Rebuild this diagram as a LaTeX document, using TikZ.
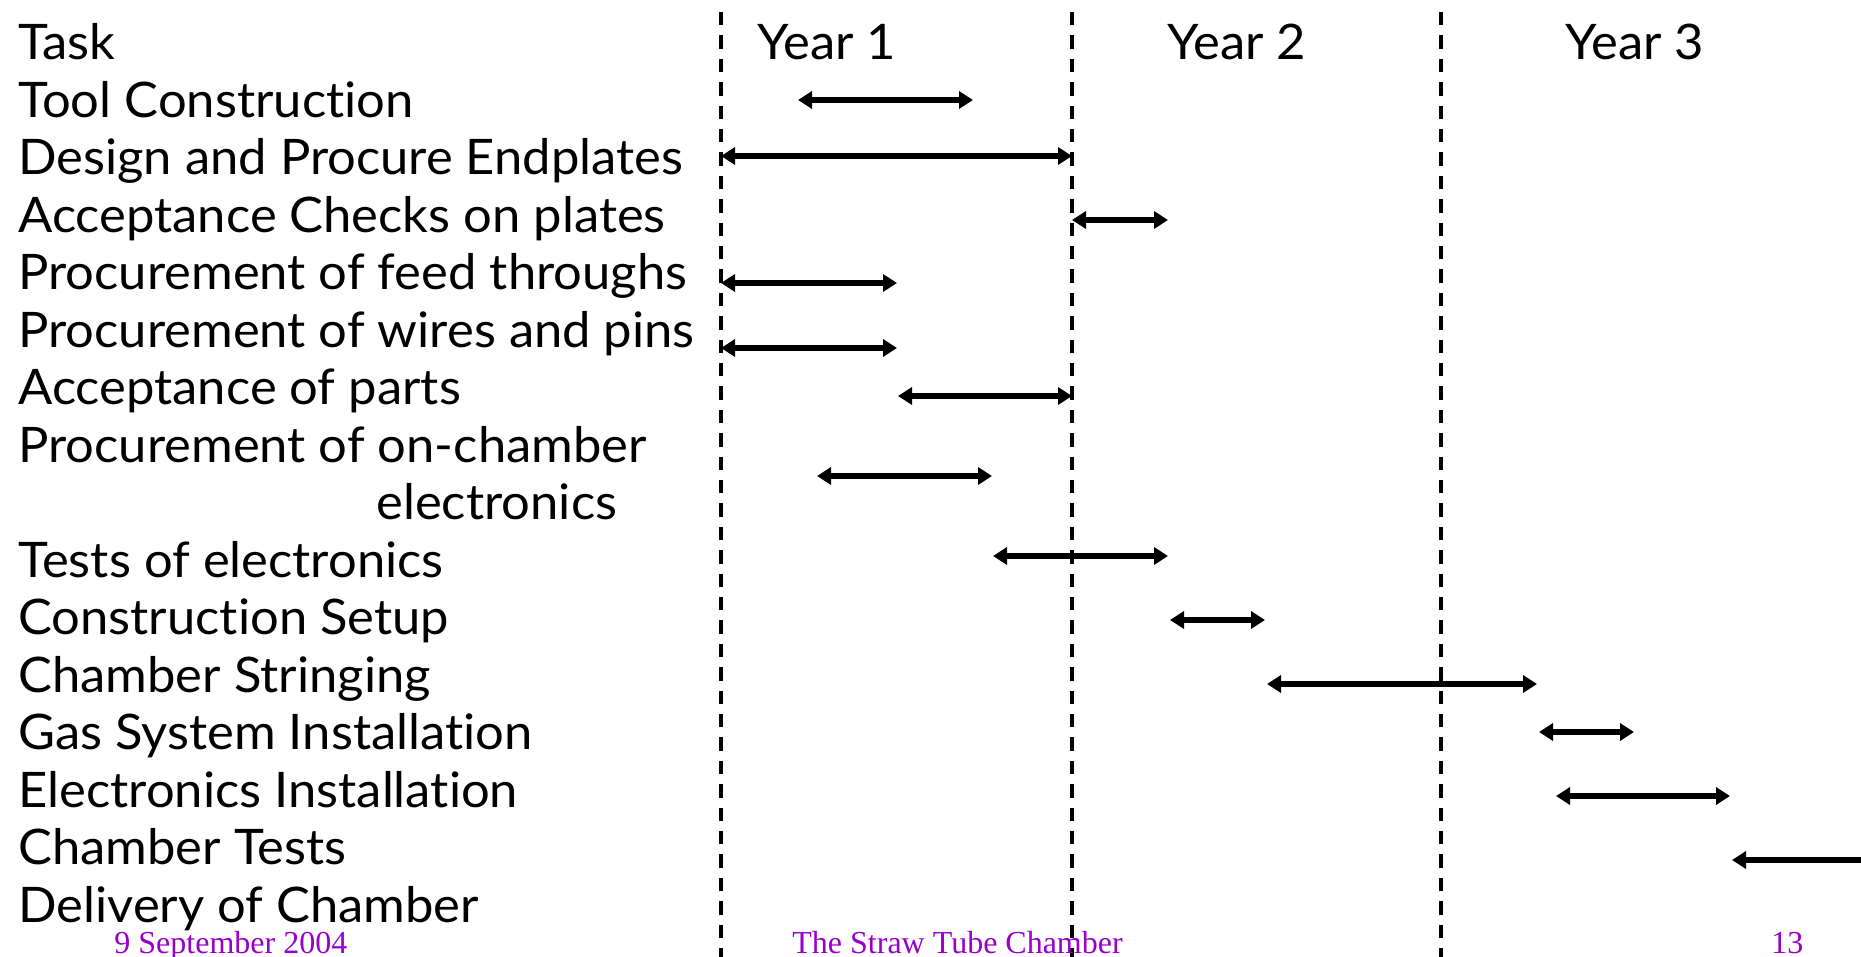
\documentclass[tikz,border=0pt]{standalone}
\usepackage{fontspec}
\setmainfont[FakeStretch=1.035,Ligatures=NoCommon]{Lato}
\newfontfamily\footfont{Liberation Serif}
\usetikzlibrary{arrows.meta}
\definecolor{footpurple}{RGB}{153,0,204}
\begin{document}
\begin{tikzpicture}[x=0.5pt,y=-0.5pt,
  lbl/.style={anchor=base west,inner sep=0pt,font=\fontsize{24.5}{29}\selectfont},
  yr/.style={anchor=base west,inner sep=0pt,font=\fontsize{24.5}{29}\selectfont},
  foot/.style={anchor=base west,inner sep=0pt,text=footpurple,font=\footfont\fontsize{16}{19}\selectfont},
  divider/.style={line width=1.7pt,dash pattern=on 6.7pt off 5pt},
  bar/.style={line width=2.7pt,{Triangle[length=7pt,width=8.5pt]}-{Triangle[length=7pt,width=8.5pt]}},
  lbar/.style={line width=2.7pt,{Triangle[length=7pt,width=8.5pt]}-}]
\useasboundingbox (0,0) rectangle (1861,957);
% dividers
\coordinate (d1t) at (721,12); \coordinate (d1b) at (721,957);
\coordinate (d2t) at (1072,12); \coordinate (d2b) at (1072,957);
\coordinate (d3t) at (1441,12); \coordinate (d3b) at (1441,957);
\draw[divider] (d1t) -- (d1b);
\draw[divider] (d2t) -- (d2b);
\draw[divider] (d3t) -- (d3b);
% labels
\node[lbl] (t0) at (18,60) {Task};
\node[lbl] (t1) at (18,117.5) {Tool Construction};
\node[lbl] (t2) at (18,175) {Design and Procure Endplates};
\node[lbl] (t3) at (18,232.4) {Acceptance Checks on plates};
\node[lbl] (t4) at (18,289.9) {Procurement of feed throughs};
\node[lbl] (t5) at (18,347.4) {Procurement of wires and pins};
\node[lbl] (t6) at (18,404.8) {Acceptance of parts};
\node[lbl] (t7) at (18,462.3) {Procurement of on-chamber};
\node[lbl] (t7b) at (376,519.8) {electronics};
\node[lbl] (t8) at (18,577.2) {Tests of electronics};
\node[lbl] (t9) at (18,634.7) {Construction Setup};
\node[lbl] (t10) at (18,692.2) {Chamber Stringing};
\node[lbl] (t11) at (18,749.6) {Gas System Installation};
\node[lbl] (t12) at (18,807.1) {Electronics Installation};
\node[lbl] (t13) at (18,864.6) {Chamber Tests};
\node[lbl] (t14) at (18,922) {Delivery of Chamber};
% years
\node[yr] (y1) at (757,60) {Year 1};
\node[yr] (y2) at (1167,60) {Year 2};
\node[yr] (y3) at (1565,60) {Year 3};
% bars
\coordinate (a1) at (798,100);  \coordinate (b1) at (973,100);
\coordinate (a2) at (721,156);  \coordinate (b2) at (1072,156);
\coordinate (a3) at (1072,220); \coordinate (b3) at (1168,220);
\coordinate (a4) at (721,283);  \coordinate (b4) at (897,283);
\coordinate (a5) at (721,348);  \coordinate (b5) at (897,348);
\coordinate (a6) at (898,396);  \coordinate (b6) at (1072,396);
\coordinate (a7) at (817,476);  \coordinate (b7) at (992,476);
\coordinate (a8) at (993,556);  \coordinate (b8) at (1168,556);
\coordinate (a9) at (1170,620); \coordinate (b9) at (1265,620);
\coordinate (a10) at (1267,684); \coordinate (b10) at (1537,684);
\coordinate (a11) at (1539,732); \coordinate (b11) at (1634,732);
\coordinate (a12) at (1556,796); \coordinate (b12) at (1730,796);
\coordinate (a13) at (1732,860); \coordinate (b13) at (1861,860);
\foreach \i in {1,...,12} {\draw[bar] (a\i) -- (b\i);}
\draw[lbar] (a13) -- (b13);
% footer
\node[foot] (f1) at (114,953) {9 September 2004};
\node[foot] (f2) at (792,953) {The Straw Tube Chamber};
\node[foot] (f3) at (1771,953) {13};
\end{tikzpicture}
\end{document}
